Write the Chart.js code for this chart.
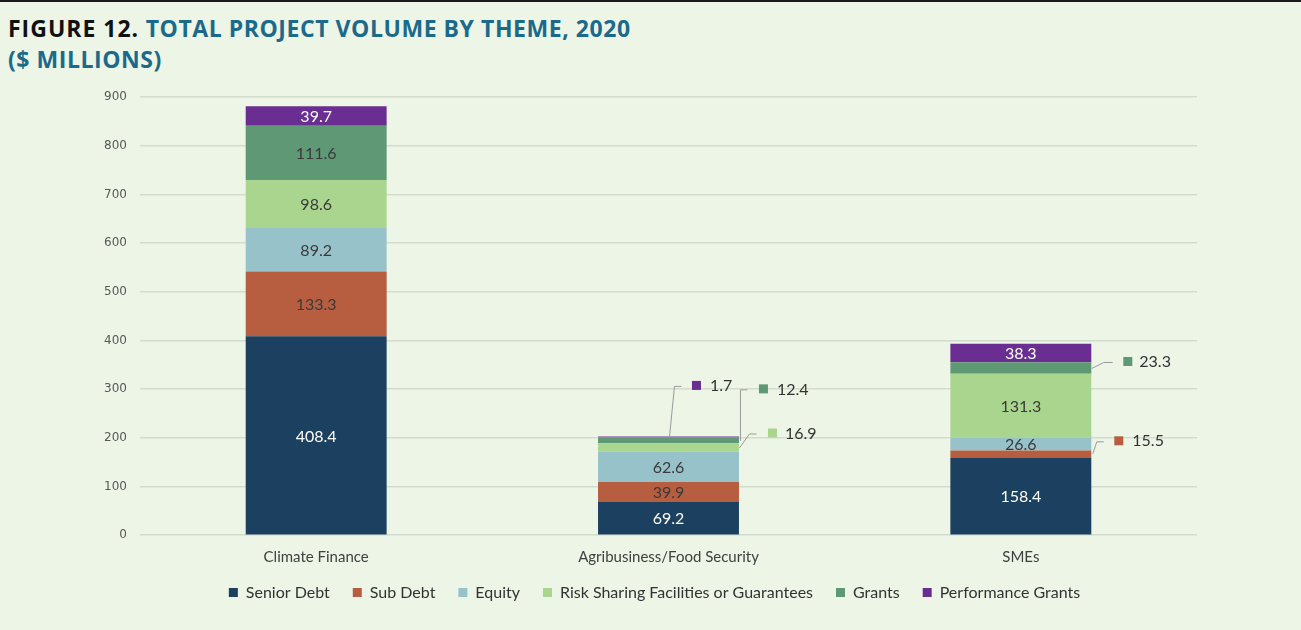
<!DOCTYPE html>
<html>
<head>
<meta charset="utf-8">
<script src="https://cdn.jsdelivr.net/npm/chart.js@4"></script>
<style>
  html, body { margin: 0; padding: 0; background: #EDF5E6; width: 1301px; height: 630px; overflow: hidden; }
  #topline { position: absolute; left: 0; top: 0; width: 1301px; height: 2px; background: #1a1a1a; }
  #title { position: absolute; left: 8px; top: 13px; font-family: "Open Sans", sans-serif; font-weight: 700; font-size: 23px; line-height: 31px; color: #1B6A8C; letter-spacing: 0.55px; }
  #title .fig { color: #111; letter-spacing: 1px; }
  canvas { position: absolute; left: 0; top: 0; }
</style>
</head>
<body>
<div id="topline"></div>
<div id="title"><span class="fig">FIGURE 12.</span> TOTAL PROJECT VOLUME BY THEME, 2020<br>($ MILLIONS)</div>
<canvas id="c" width="1301" height="630"></canvas>
<script>
const categories = ["Climate Finance", "Agribusiness/Food Security", "SMEs"];
const seriesNames = ["Senior Debt", "Sub Debt", "Equity", "Risk Sharing Facilities or Guarantees", "Grants", "Performance Grants"];
const seniorDebt = [408.4, 69.2, 158.4];
const subDebt = [133.3, 39.9, 15.5];
const equity = [89.2, 62.6, 26.6];
const riskSharing = [98.6, 16.9, 131.3];
const grants = [111.6, 12.4, 23.3];
const performanceGrants = [39.7, 1.7, 38.3];
const yTicks = [0, 100, 200, 300, 400, 500, 600, 700, 800, 900];

const colors = ["#1B4060", "#B85E40", "#98C2C9", "#AAD58E", "#5F9875", "#6A2E92"];
const labelColors = ["#FFFFFF", "#3a3a3a", "#3a3a3a", "#3a3a3a", "#3a3a3a", "#FFFFFF"];
const seriesValues = [seniorDebt, subDebt, equity, riskSharing, grants, performanceGrants];

// callout styles: [datasetIndex, categoryIndex] -> leader geometry relative to bar right edge / segment centre
const callouts = [
  { ds: 5, cat: 1, pts: [[-70, 0], [-65, -51], [-58, -51]], box: -47, text: -29, ty: -51 },
  { ds: 4, cat: 1, pts: [[1, 0], [1, -51], [8, -51]], box: 20, text: 38, ty: -51 },
  { ds: 3, cat: 1, pts: [[0, 0], [10, -14], [17, -14]], box: 29, text: 46, ty: -14 },
  { ds: 4, cat: 2, pts: [[0, 0], [12, -6], [21, -6]], box: 32, text: 48, ty: -6 },
  { ds: 1, cat: 2, pts: [[1, -1], [5, -13], [12, -13]], box: 23, text: 41, ty: -13 }
];

const labelPlugin = {
  id: 'segLabels',
  afterLayout(chart) {
    // lift the legend row closer to the axis labels and centre it on the page
    if (chart.legend) {
      chart.legend.top -= 6.6; chart.legend.bottom -= 6.6;
      chart.legend.left += 56; chart.legend.right += 56;
    }
  },
  afterDatasetsDraw(chart) {
    const ctx = chart.ctx;
    ctx.save();
    chart.data.datasets.forEach((ds, di) => {
      const meta = chart.getDatasetMeta(di);
      meta.data.forEach((bar, ci) => {
        const v = ds.data[ci];
        const co = callouts.find(c => c.ds === di && c.cat === ci);
        const top = Math.min(bar.y, bar.base), bot = Math.max(bar.y, bar.base);
        const yc = (top + bot) / 2;
        const xR = bar.x + bar.width / 2;
        const txt = v.toFixed(1);
        if (co) {
          ctx.strokeStyle = '#9a9a9a';
          ctx.lineWidth = 1;
          ctx.beginPath();
          co.pts.forEach((p, k) => {
            const px = xR + p[0] + 0.5, py = yc + p[1] + 0.5;
            if (k === 0) ctx.moveTo(px, py); else ctx.lineTo(px, py);
          });
          ctx.stroke();
          ctx.fillStyle = colors[di];
          ctx.fillRect(xR + co.box, yc + co.ty - 5, 9, 9);
          ctx.fillStyle = '#333';
          ctx.font = '16px Lato';
          ctx.textAlign = 'left';
          ctx.textBaseline = 'middle';
          ctx.fillText(txt, xR + co.text, yc + co.ty);
        } else {
          ctx.fillStyle = labelColors[di];
          ctx.font = '16px Lato';
          ctx.textAlign = 'center';
          ctx.textBaseline = 'middle';
          ctx.fillText(txt, bar.x, yc + 1);
        }
      });
    });
    ctx.restore();
  }
};

new Chart(document.getElementById('c'), {
  type: 'bar',
  data: {
    labels: categories,
    datasets: seriesNames.map((n, i) => ({
      label: n,
      data: seriesValues[i],
      backgroundColor: colors[i],
      borderWidth: 0,
      barPercentage: 0.4,
      categoryPercentage: 1.0
    }))
  },
  options: {
    responsive: false,
    animation: false,
    devicePixelRatio: 1,
    layout: { padding: { left: 0, right: 104, top: 97, bottom: 12.8 } },
    plugins: {
      tooltip: { enabled: false },
      legend: {
        position: 'bottom',
        labels: {
          boxWidth: 9, boxHeight: 9, padding: 23,
          color: '#333', font: { family: 'Lato', size: 16 }
        }
      }
    },
    scales: {
      x: {
        stacked: true,
        grid: { display: false, drawTicks: false },
        border: { display: false },
        afterFit(scale) { scale.height = 33; },
        ticks: { color: '#404040', font: { family: 'Lato', size: 15 }, padding: 13 }
      },
      y: {
        stacked: true,
        min: 0, max: 900,
        afterBuildTicks(scale) { scale.ticks = yTicks.map(v => ({ value: v })); },
        afterFit(scale) { scale.width = 140; },
        grid: { color: '#D4DCCF', lineWidth: 1.5, drawTicks: false },
        border: { display: false },
        ticks: { color: '#595959', font: { family: 'DejaVu Sans', size: 12 }, padding: 13 }
      }
    }
  },
  plugins: [labelPlugin]
});
</script>
</body>
</html>
